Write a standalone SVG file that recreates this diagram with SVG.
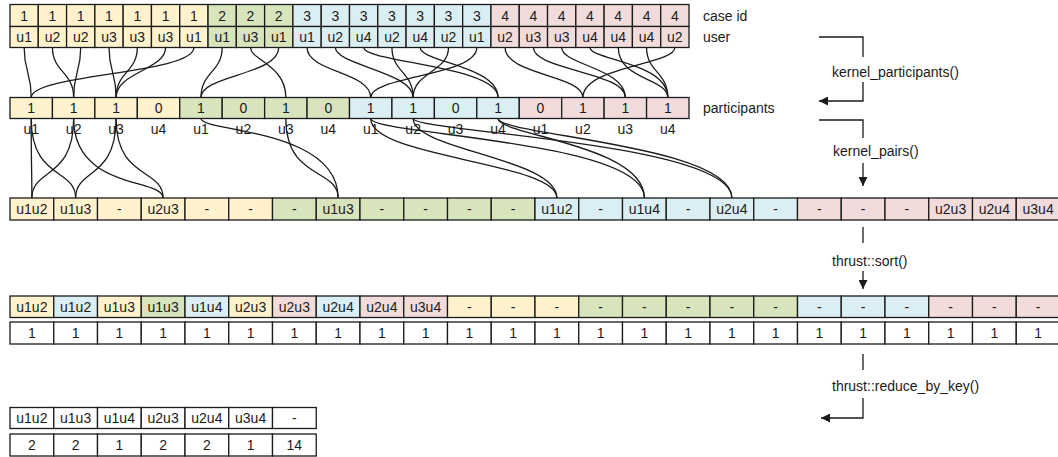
<svg xmlns="http://www.w3.org/2000/svg" width="1058" height="457" viewBox="0 0 1058 457">
<style>
.c{stroke:#1b1b1b;stroke-width:1.3}
.y{fill:#FFF2CC}.g{fill:#D8E4BC}.b{fill:#DAEEF3}.p{fill:#F2DCDB}.w{fill:#FFFFFF}
text{font-family:"Liberation Sans",Arial,sans-serif;font-size:14px;fill:#1b1b1b}
.m{text-anchor:middle}
.ln{fill:none;stroke:#1b1b1b;stroke-width:1.3}
</style>
<defs>
<marker id="ah" viewBox="0 0 10 10" refX="10" refY="5" markerWidth="10" markerHeight="9" markerUnits="userSpaceOnUse" orient="auto"><path d="M0,0 L10,5 L0,10 z" fill="#1b1b1b"/></marker>
</defs>
<rect width="1058" height="457" fill="#fff"/>

<g id="connectors">
<path class="ln" d="M24.15,47.5 C24.15,72 31.22,72 31.22,97.5"/>
<path class="ln" d="M52.44,47.5 C52.44,72 73.66,72 73.66,97.5"/>
<path class="ln" d="M80.73,47.5 C80.73,72 73.66,72 73.66,97.5"/>
<path class="ln" d="M109.02,47.5 C109.02,72 116.09,72 116.09,97.5"/>
<path class="ln" d="M137.31,47.5 C137.31,72 116.09,72 116.09,97.5"/>
<path class="ln" d="M165.6,47.5 C165.6,70 116.09,72 116.09,97.5"/>
<path class="ln" d="M193.9,47.5 C193.9,74 31.22,74 31.22,97.5"/>
<path class="ln" d="M222.19,47.5 C222.19,72 200.97,72 200.97,97.5"/>
<path class="ln" d="M250.48,47.5 C250.48,60 285.84,65 285.84,97.5"/>
<path class="ln" d="M278.77,47.5 C278.77,75 200.97,75 200.97,97.5"/>
<path class="ln" d="M307.06,47.5 C307.06,72 370.72,72 370.72,97.5"/>
<path class="ln" d="M335.35,47.5 C335.35,65 413.16,72 413.16,97.5"/>
<path class="ln" d="M363.65,47.5 C363.65,62 498.03,66 498.03,97.5"/>
<path class="ln" d="M391.94,47.5 C391.94,72 413.16,72 413.16,97.5"/>
<path class="ln" d="M420.23,47.5 C420.23,62 498.03,66 498.03,97.5"/>
<path class="ln" d="M448.52,47.5 C448.52,72 413.16,72 413.16,97.5"/>
<path class="ln" d="M476.81,47.5 C476.81,76 370.72,76 370.72,97.5"/>
<path class="ln" d="M505.1,47.5 C505.1,75 582.91,75 582.91,97.5"/>
<path class="ln" d="M533.4,47.5 C533.4,70 625.34,72 625.34,97.5"/>
<path class="ln" d="M561.69,47.5 C561.69,65 625.34,68 625.34,97.5"/>
<path class="ln" d="M589.98,47.5 C589.98,60 667.78,62 667.78,97.5"/>
<path class="ln" d="M618.27,47.5 C618.27,80 667.78,78 667.78,97.5"/>
<path class="ln" d="M646.56,47.5 C646.56,72 667.78,72 667.78,97.5"/>
<path class="ln" d="M674.85,47.5 C674.85,65 582.91,66 582.91,97.5"/>

<path class="ln" d="M31.22,118.5 C31.22,175 31.875,165 31.875,198"/>
<path class="ln" d="M31.22,118.5 C31.22,180 75.625,168 75.625,198"/>
<path class="ln" d="M73.66,118.5 C73.66,180 31.875,168 31.875,198"/>
<path class="ln" d="M73.66,118.5 C73.66,190 163.125,178 163.125,198"/>
<path class="ln" d="M116.09,118.5 C116.09,180 75.625,168 75.625,198"/>
<path class="ln" d="M116.09,118.5 C116.09,180 163.125,168 163.125,198"/>
<path class="ln" d="M200.97,118.5 C200.97,132 338.125,128 338.125,198"/>
<path class="ln" d="M285.84,118.5 C285.84,180 338.125,168 338.125,198"/>
<path class="ln" d="M370.72,118.5 C370.72,158 556.875,162 556.875,198"/>
<path class="ln" d="M370.72,118.5 C370.72,135 644.375,140 644.375,198"/>
<path class="ln" d="M413.16,118.5 C413.16,150 556.875,158 556.875,198"/>
<path class="ln" d="M413.16,118.5 C413.16,132 731.875,142 731.875,198"/>
<path class="ln" d="M498.03,118.5 C498.03,135 644.375,145 644.375,198"/>
<path class="ln" d="M498.03,118.5 C498.03,135 731.875,145 731.875,198"/>

<path class="ln" d="M819,37 H863 V57"/>
<path class="ln" d="M863,82 V101 H819" marker-end="url(#ah)"/>
<path class="ln" d="M819,120 H863 V138"/>
<path class="ln" d="M863,163 V186" marker-end="url(#ah)"/>
<path class="ln" d="M863,227 V243"/>
<path class="ln" d="M863,271 V289" marker-end="url(#ah)"/>
<path class="ln" d="M863,354 V370"/>
<path class="ln" d="M863,398 V418 H821" marker-end="url(#ah)"/>
</g>

<g id="row-caseid">
<rect class="c y" x="10" y="4.5" width="28.29" height="22"/><text class="m" x="24.15" y="20.5">1</text>
<rect class="c y" x="38.29" y="4.5" width="28.29" height="22"/><text class="m" x="52.44" y="20.5">1</text>
<rect class="c y" x="66.58" y="4.5" width="28.29" height="22"/><text class="m" x="80.73" y="20.5">1</text>
<rect class="c y" x="94.88" y="4.5" width="28.29" height="22"/><text class="m" x="109.02" y="20.5">1</text>
<rect class="c y" x="123.17" y="4.5" width="28.29" height="22"/><text class="m" x="137.31" y="20.5">1</text>
<rect class="c y" x="151.46" y="4.5" width="28.29" height="22"/><text class="m" x="165.6" y="20.5">1</text>
<rect class="c y" x="179.75" y="4.5" width="28.29" height="22"/><text class="m" x="193.9" y="20.5">1</text>
<rect class="c g" x="208.04" y="4.5" width="28.29" height="22"/><text class="m" x="222.19" y="20.5">2</text>
<rect class="c g" x="236.33" y="4.5" width="28.29" height="22"/><text class="m" x="250.48" y="20.5">2</text>
<rect class="c g" x="264.63" y="4.5" width="28.29" height="22"/><text class="m" x="278.77" y="20.5">2</text>
<rect class="c b" x="292.92" y="4.5" width="28.29" height="22"/><text class="m" x="307.06" y="20.5">3</text>
<rect class="c b" x="321.21" y="4.5" width="28.29" height="22"/><text class="m" x="335.35" y="20.5">3</text>
<rect class="c b" x="349.5" y="4.5" width="28.29" height="22"/><text class="m" x="363.65" y="20.5">3</text>
<rect class="c b" x="377.79" y="4.5" width="28.29" height="22"/><text class="m" x="391.94" y="20.5">3</text>
<rect class="c b" x="406.08" y="4.5" width="28.29" height="22"/><text class="m" x="420.23" y="20.5">3</text>
<rect class="c b" x="434.38" y="4.5" width="28.29" height="22"/><text class="m" x="448.52" y="20.5">3</text>
<rect class="c b" x="462.67" y="4.5" width="28.29" height="22"/><text class="m" x="476.81" y="20.5">3</text>
<rect class="c p" x="490.96" y="4.5" width="28.29" height="22"/><text class="m" x="505.1" y="20.5">4</text>
<rect class="c p" x="519.25" y="4.5" width="28.29" height="22"/><text class="m" x="533.4" y="20.5">4</text>
<rect class="c p" x="547.54" y="4.5" width="28.29" height="22"/><text class="m" x="561.69" y="20.5">4</text>
<rect class="c p" x="575.83" y="4.5" width="28.29" height="22"/><text class="m" x="589.98" y="20.5">4</text>
<rect class="c p" x="604.13" y="4.5" width="28.29" height="22"/><text class="m" x="618.27" y="20.5">4</text>
<rect class="c p" x="632.42" y="4.5" width="28.29" height="22"/><text class="m" x="646.56" y="20.5">4</text>
<rect class="c p" x="660.71" y="4.5" width="28.29" height="22"/><text class="m" x="674.85" y="20.5">4</text>
</g>

<g id="row-user">
<rect class="c y" x="10" y="26.5" width="28.29" height="21"/><text class="m" x="24.15" y="42">u1</text>
<rect class="c y" x="38.29" y="26.5" width="28.29" height="21"/><text class="m" x="52.44" y="42">u2</text>
<rect class="c y" x="66.58" y="26.5" width="28.29" height="21"/><text class="m" x="80.73" y="42">u2</text>
<rect class="c y" x="94.88" y="26.5" width="28.29" height="21"/><text class="m" x="109.02" y="42">u3</text>
<rect class="c y" x="123.17" y="26.5" width="28.29" height="21"/><text class="m" x="137.31" y="42">u3</text>
<rect class="c y" x="151.46" y="26.5" width="28.29" height="21"/><text class="m" x="165.6" y="42">u3</text>
<rect class="c y" x="179.75" y="26.5" width="28.29" height="21"/><text class="m" x="193.9" y="42">u1</text>
<rect class="c g" x="208.04" y="26.5" width="28.29" height="21"/><text class="m" x="222.19" y="42">u1</text>
<rect class="c g" x="236.33" y="26.5" width="28.29" height="21"/><text class="m" x="250.48" y="42">u3</text>
<rect class="c g" x="264.63" y="26.5" width="28.29" height="21"/><text class="m" x="278.77" y="42">u1</text>
<rect class="c b" x="292.92" y="26.5" width="28.29" height="21"/><text class="m" x="307.06" y="42">u1</text>
<rect class="c b" x="321.21" y="26.5" width="28.29" height="21"/><text class="m" x="335.35" y="42">u2</text>
<rect class="c b" x="349.5" y="26.5" width="28.29" height="21"/><text class="m" x="363.65" y="42">u4</text>
<rect class="c b" x="377.79" y="26.5" width="28.29" height="21"/><text class="m" x="391.94" y="42">u2</text>
<rect class="c b" x="406.08" y="26.5" width="28.29" height="21"/><text class="m" x="420.23" y="42">u4</text>
<rect class="c b" x="434.38" y="26.5" width="28.29" height="21"/><text class="m" x="448.52" y="42">u2</text>
<rect class="c b" x="462.67" y="26.5" width="28.29" height="21"/><text class="m" x="476.81" y="42">u1</text>
<rect class="c p" x="490.96" y="26.5" width="28.29" height="21"/><text class="m" x="505.1" y="42">u2</text>
<rect class="c p" x="519.25" y="26.5" width="28.29" height="21"/><text class="m" x="533.4" y="42">u3</text>
<rect class="c p" x="547.54" y="26.5" width="28.29" height="21"/><text class="m" x="561.69" y="42">u3</text>
<rect class="c p" x="575.83" y="26.5" width="28.29" height="21"/><text class="m" x="589.98" y="42">u4</text>
<rect class="c p" x="604.13" y="26.5" width="28.29" height="21"/><text class="m" x="618.27" y="42">u4</text>
<rect class="c p" x="632.42" y="26.5" width="28.29" height="21"/><text class="m" x="646.56" y="42">u4</text>
<rect class="c p" x="660.71" y="26.5" width="28.29" height="21"/><text class="m" x="674.85" y="42">u2</text>
</g>

<g id="row-participants">
<rect class="c y" x="10" y="97.5" width="42.44" height="21"/><text class="m" x="31.22" y="113">1</text>
<rect class="c y" x="52.44" y="97.5" width="42.44" height="21"/><text class="m" x="73.66" y="113">1</text>
<rect class="c y" x="94.88" y="97.5" width="42.44" height="21"/><text class="m" x="116.09" y="113">1</text>
<rect class="c y" x="137.31" y="97.5" width="42.44" height="21"/><text class="m" x="158.53" y="113">0</text>
<rect class="c g" x="179.75" y="97.5" width="42.44" height="21"/><text class="m" x="200.97" y="113">1</text>
<rect class="c g" x="222.19" y="97.5" width="42.44" height="21"/><text class="m" x="243.41" y="113">0</text>
<rect class="c g" x="264.63" y="97.5" width="42.44" height="21"/><text class="m" x="285.84" y="113">1</text>
<rect class="c g" x="307.06" y="97.5" width="42.44" height="21"/><text class="m" x="328.28" y="113">0</text>
<rect class="c b" x="349.5" y="97.5" width="42.44" height="21"/><text class="m" x="370.72" y="113">1</text>
<rect class="c b" x="391.94" y="97.5" width="42.44" height="21"/><text class="m" x="413.16" y="113">1</text>
<rect class="c b" x="434.38" y="97.5" width="42.44" height="21"/><text class="m" x="455.59" y="113">0</text>
<rect class="c b" x="476.81" y="97.5" width="42.44" height="21"/><text class="m" x="498.03" y="113">1</text>
<rect class="c p" x="519.25" y="97.5" width="42.44" height="21"/><text class="m" x="540.47" y="113">0</text>
<rect class="c p" x="561.69" y="97.5" width="42.44" height="21"/><text class="m" x="582.91" y="113">1</text>
<rect class="c p" x="604.13" y="97.5" width="42.44" height="21"/><text class="m" x="625.34" y="113">1</text>
<rect class="c p" x="646.56" y="97.5" width="42.44" height="21"/><text class="m" x="667.78" y="113">1</text>
</g>

<g id="participant-users">
<text class="m" x="31.22" y="134">u1</text><text class="m" x="73.66" y="134">u2</text><text class="m" x="116.09" y="134">u3</text><text class="m" x="158.53" y="134">u4</text>
<text class="m" x="200.97" y="134">u1</text><text class="m" x="243.41" y="134">u2</text><text class="m" x="285.84" y="134">u3</text><text class="m" x="328.28" y="134">u4</text>
<text class="m" x="370.72" y="134">u1</text><text class="m" x="413.16" y="134">u2</text><text class="m" x="455.59" y="134">u3</text><text class="m" x="498.03" y="134">u4</text>
<text class="m" x="540.47" y="134">u1</text><text class="m" x="582.91" y="134">u2</text><text class="m" x="625.34" y="134">u3</text><text class="m" x="667.78" y="134">u4</text>
</g>

<g id="row-pairs">
<rect class="c y" x="10" y="198" width="43.75" height="22"/><text class="m" x="31.875" y="214">u1u2</text>
<rect class="c y" x="53.75" y="198" width="43.75" height="22"/><text class="m" x="75.625" y="214">u1u3</text>
<rect class="c y" x="97.5" y="198" width="43.75" height="22"/><text class="m" x="119.375" y="214">-</text>
<rect class="c y" x="141.25" y="198" width="43.75" height="22"/><text class="m" x="163.125" y="214">u2u3</text>
<rect class="c y" x="185" y="198" width="43.75" height="22"/><text class="m" x="206.875" y="214">-</text>
<rect class="c y" x="228.75" y="198" width="43.75" height="22"/><text class="m" x="250.625" y="214">-</text>
<rect class="c g" x="272.5" y="198" width="43.75" height="22"/><text class="m" x="294.375" y="214">-</text>
<rect class="c g" x="316.25" y="198" width="43.75" height="22"/><text class="m" x="338.125" y="214">u1u3</text>
<rect class="c g" x="360" y="198" width="43.75" height="22"/><text class="m" x="381.875" y="214">-</text>
<rect class="c g" x="403.75" y="198" width="43.75" height="22"/><text class="m" x="425.625" y="214">-</text>
<rect class="c g" x="447.5" y="198" width="43.75" height="22"/><text class="m" x="469.375" y="214">-</text>
<rect class="c g" x="491.25" y="198" width="43.75" height="22"/><text class="m" x="513.125" y="214">-</text>
<rect class="c b" x="535" y="198" width="43.75" height="22"/><text class="m" x="556.875" y="214">u1u2</text>
<rect class="c b" x="578.75" y="198" width="43.75" height="22"/><text class="m" x="600.625" y="214">-</text>
<rect class="c b" x="622.5" y="198" width="43.75" height="22"/><text class="m" x="644.375" y="214">u1u4</text>
<rect class="c b" x="666.25" y="198" width="43.75" height="22"/><text class="m" x="688.125" y="214">-</text>
<rect class="c b" x="710" y="198" width="43.75" height="22"/><text class="m" x="731.875" y="214">u2u4</text>
<rect class="c b" x="753.75" y="198" width="43.75" height="22"/><text class="m" x="775.625" y="214">-</text>
<rect class="c p" x="797.5" y="198" width="43.75" height="22"/><text class="m" x="819.375" y="214">-</text>
<rect class="c p" x="841.25" y="198" width="43.75" height="22"/><text class="m" x="863.125" y="214">-</text>
<rect class="c p" x="885" y="198" width="43.75" height="22"/><text class="m" x="906.875" y="214">-</text>
<rect class="c p" x="928.75" y="198" width="43.75" height="22"/><text class="m" x="950.625" y="214">u2u3</text>
<rect class="c p" x="972.5" y="198" width="43.75" height="22"/><text class="m" x="994.375" y="214">u2u4</text>
<rect class="c p" x="1016.25" y="198" width="43.75" height="22"/><text class="m" x="1038.125" y="214">u3u4</text>
</g>

<g id="row-sorted-keys">
<rect class="c y" x="10" y="296" width="43.75" height="21.5"/><text class="m" x="31.875" y="311.5">u1u2</text>
<rect class="c b" x="53.75" y="296" width="43.75" height="21.5"/><text class="m" x="75.625" y="311.5">u1u2</text>
<rect class="c y" x="97.5" y="296" width="43.75" height="21.5"/><text class="m" x="119.375" y="311.5">u1u3</text>
<rect class="c g" x="141.25" y="296" width="43.75" height="21.5"/><text class="m" x="163.125" y="311.5">u1u3</text>
<rect class="c b" x="185" y="296" width="43.75" height="21.5"/><text class="m" x="206.875" y="311.5">u1u4</text>
<rect class="c y" x="228.75" y="296" width="43.75" height="21.5"/><text class="m" x="250.625" y="311.5">u2u3</text>
<rect class="c p" x="272.5" y="296" width="43.75" height="21.5"/><text class="m" x="294.375" y="311.5">u2u3</text>
<rect class="c b" x="316.25" y="296" width="43.75" height="21.5"/><text class="m" x="338.125" y="311.5">u2u4</text>
<rect class="c p" x="360" y="296" width="43.75" height="21.5"/><text class="m" x="381.875" y="311.5">u2u4</text>
<rect class="c p" x="403.75" y="296" width="43.75" height="21.5"/><text class="m" x="425.625" y="311.5">u3u4</text>
<rect class="c y" x="447.5" y="296" width="43.75" height="21.5"/><text class="m" x="469.375" y="311.5">-</text>
<rect class="c y" x="491.25" y="296" width="43.75" height="21.5"/><text class="m" x="513.125" y="311.5">-</text>
<rect class="c y" x="535" y="296" width="43.75" height="21.5"/><text class="m" x="556.875" y="311.5">-</text>
<rect class="c g" x="578.75" y="296" width="43.75" height="21.5"/><text class="m" x="600.625" y="311.5">-</text>
<rect class="c g" x="622.5" y="296" width="43.75" height="21.5"/><text class="m" x="644.375" y="311.5">-</text>
<rect class="c g" x="666.25" y="296" width="43.75" height="21.5"/><text class="m" x="688.125" y="311.5">-</text>
<rect class="c g" x="710" y="296" width="43.75" height="21.5"/><text class="m" x="731.875" y="311.5">-</text>
<rect class="c g" x="753.75" y="296" width="43.75" height="21.5"/><text class="m" x="775.625" y="311.5">-</text>
<rect class="c b" x="797.5" y="296" width="43.75" height="21.5"/><text class="m" x="819.375" y="311.5">-</text>
<rect class="c b" x="841.25" y="296" width="43.75" height="21.5"/><text class="m" x="863.125" y="311.5">-</text>
<rect class="c b" x="885" y="296" width="43.75" height="21.5"/><text class="m" x="906.875" y="311.5">-</text>
<rect class="c p" x="928.75" y="296" width="43.75" height="21.5"/><text class="m" x="950.625" y="311.5">-</text>
<rect class="c p" x="972.5" y="296" width="43.75" height="21.5"/><text class="m" x="994.375" y="311.5">-</text>
<rect class="c p" x="1016.25" y="296" width="43.75" height="21.5"/><text class="m" x="1038.125" y="311.5">-</text>
</g>

<g id="row-sorted-values">
<rect class="c w" x="10" y="322" width="43.75" height="22"/><text class="m" x="31.875" y="338">1</text>
<rect class="c w" x="53.75" y="322" width="43.75" height="22"/><text class="m" x="75.625" y="338">1</text>
<rect class="c w" x="97.5" y="322" width="43.75" height="22"/><text class="m" x="119.375" y="338">1</text>
<rect class="c w" x="141.25" y="322" width="43.75" height="22"/><text class="m" x="163.125" y="338">1</text>
<rect class="c w" x="185" y="322" width="43.75" height="22"/><text class="m" x="206.875" y="338">1</text>
<rect class="c w" x="228.75" y="322" width="43.75" height="22"/><text class="m" x="250.625" y="338">1</text>
<rect class="c w" x="272.5" y="322" width="43.75" height="22"/><text class="m" x="294.375" y="338">1</text>
<rect class="c w" x="316.25" y="322" width="43.75" height="22"/><text class="m" x="338.125" y="338">1</text>
<rect class="c w" x="360" y="322" width="43.75" height="22"/><text class="m" x="381.875" y="338">1</text>
<rect class="c w" x="403.75" y="322" width="43.75" height="22"/><text class="m" x="425.625" y="338">1</text>
<rect class="c w" x="447.5" y="322" width="43.75" height="22"/><text class="m" x="469.375" y="338">1</text>
<rect class="c w" x="491.25" y="322" width="43.75" height="22"/><text class="m" x="513.125" y="338">1</text>
<rect class="c w" x="535" y="322" width="43.75" height="22"/><text class="m" x="556.875" y="338">1</text>
<rect class="c w" x="578.75" y="322" width="43.75" height="22"/><text class="m" x="600.625" y="338">1</text>
<rect class="c w" x="622.5" y="322" width="43.75" height="22"/><text class="m" x="644.375" y="338">1</text>
<rect class="c w" x="666.25" y="322" width="43.75" height="22"/><text class="m" x="688.125" y="338">1</text>
<rect class="c w" x="710" y="322" width="43.75" height="22"/><text class="m" x="731.875" y="338">1</text>
<rect class="c w" x="753.75" y="322" width="43.75" height="22"/><text class="m" x="775.625" y="338">1</text>
<rect class="c w" x="797.5" y="322" width="43.75" height="22"/><text class="m" x="819.375" y="338">1</text>
<rect class="c w" x="841.25" y="322" width="43.75" height="22"/><text class="m" x="863.125" y="338">1</text>
<rect class="c w" x="885" y="322" width="43.75" height="22"/><text class="m" x="906.875" y="338">1</text>
<rect class="c w" x="928.75" y="322" width="43.75" height="22"/><text class="m" x="950.625" y="338">1</text>
<rect class="c w" x="972.5" y="322" width="43.75" height="22"/><text class="m" x="994.375" y="338">1</text>
<rect class="c w" x="1016.25" y="322" width="43.75" height="22"/><text class="m" x="1038.125" y="338">1</text>
</g>

<g id="row-reduced-keys">
<rect class="c w" x="10" y="407.5" width="43.75" height="21"/><text class="m" x="31.875" y="423">u1u2</text>
<rect class="c w" x="53.75" y="407.5" width="43.75" height="21"/><text class="m" x="75.625" y="423">u1u3</text>
<rect class="c w" x="97.5" y="407.5" width="43.75" height="21"/><text class="m" x="119.375" y="423">u1u4</text>
<rect class="c w" x="141.25" y="407.5" width="43.75" height="21"/><text class="m" x="163.125" y="423">u2u3</text>
<rect class="c w" x="185" y="407.5" width="43.75" height="21"/><text class="m" x="206.875" y="423">u2u4</text>
<rect class="c w" x="228.75" y="407.5" width="43.75" height="21"/><text class="m" x="250.625" y="423">u3u4</text>
<rect class="c w" x="272.5" y="407.5" width="43.75" height="21"/><text class="m" x="294.375" y="423">-</text>
</g>

<g id="row-reduced-values">
<rect class="c w" x="10" y="434" width="43.75" height="22"/><text class="m" x="31.875" y="450">2</text>
<rect class="c w" x="53.75" y="434" width="43.75" height="22"/><text class="m" x="75.625" y="450">2</text>
<rect class="c w" x="97.5" y="434" width="43.75" height="22"/><text class="m" x="119.375" y="450">1</text>
<rect class="c w" x="141.25" y="434" width="43.75" height="22"/><text class="m" x="163.125" y="450">2</text>
<rect class="c w" x="185" y="434" width="43.75" height="22"/><text class="m" x="206.875" y="450">2</text>
<rect class="c w" x="228.75" y="434" width="43.75" height="22"/><text class="m" x="250.625" y="450">1</text>
<rect class="c w" x="272.5" y="434" width="43.75" height="22"/><text class="m" x="294.375" y="450">14</text>
</g>

<g id="row-labels">
<text x="703" y="20.5">case id</text>
<text x="703" y="41.5">user</text>
<text x="703" y="112.5">participants</text>
</g>

<g id="step-labels">
<text x="832" y="76.5">kernel_participants()</text>
<text x="833" y="155.5">kernel_pairs()</text>
<text x="832" y="265.5">thrust::sort()</text>
<text x="832" y="390.5">thrust::reduce_by_key()</text>
</g>
</svg>
